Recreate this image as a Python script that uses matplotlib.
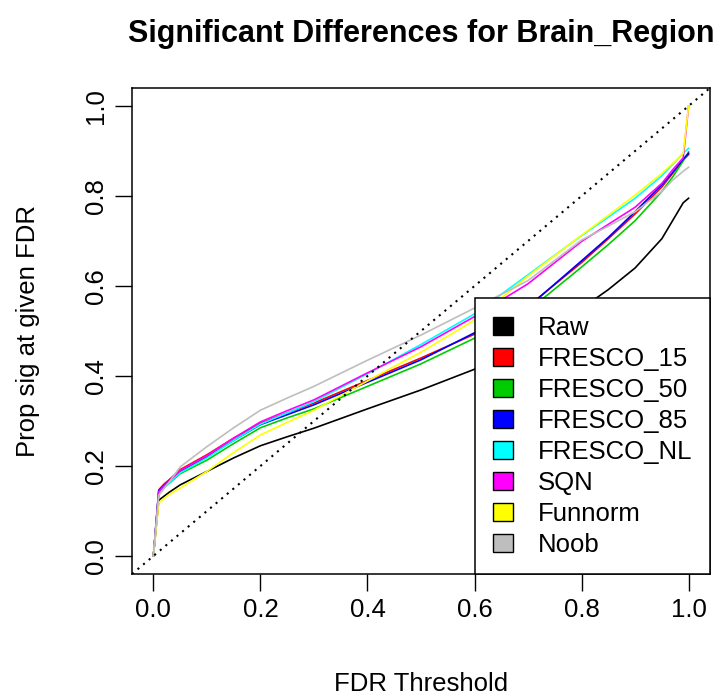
import matplotlib
matplotlib.use("Agg")
import matplotlib.pyplot as plt
from matplotlib.patches import Patch

plt.rcParams['font.family'] = ['Liberation Sans', 'DejaVu Sans']

# FDR thresholds and proportion significant
fdr = [0, 0.01, 0.02, 0.03, 0.05, 0.1, 0.15, 0.2, 0.25, 0.3, 0.4, 0.5, 0.6, 0.7, 0.8, 0.85, 0.9, 0.95, 0.97, 0.99, 1.0]
raw = [0, 0.124, 0.133, 0.142, 0.158, 0.188, 0.218, 0.245, 0.265, 0.284, 0.327, 0.369, 0.415, 0.478, 0.55, 0.592, 0.64, 0.705, 0.745, 0.785, 0.795]
fresco_15 = [0, 0.147, 0.16, 0.17, 0.192, 0.225, 0.262, 0.295, 0.318, 0.34, 0.39, 0.44, 0.493, 0.555, 0.652, 0.705, 0.76, 0.82, 0.85, 0.88, 0.892]
fresco_50 = [0, 0.14, 0.152, 0.162, 0.183, 0.213, 0.25, 0.285, 0.307, 0.327, 0.377, 0.427, 0.484, 0.545, 0.642, 0.692, 0.745, 0.81, 0.842, 0.878, 0.898]
fresco_85 = [0, 0.145, 0.157, 0.167, 0.188, 0.22, 0.257, 0.292, 0.314, 0.336, 0.386, 0.436, 0.496, 0.553, 0.656, 0.708, 0.765, 0.825, 0.852, 0.882, 0.895]
fresco_nl = [0, 0.14, 0.152, 0.163, 0.185, 0.218, 0.257, 0.293, 0.318, 0.343, 0.405, 0.47, 0.538, 0.625, 0.712, 0.753, 0.795, 0.845, 0.87, 0.895, 0.906]
sqn = [0, 0.143, 0.156, 0.167, 0.19, 0.223, 0.262, 0.298, 0.323, 0.347, 0.407, 0.465, 0.532, 0.605, 0.699, 0.737, 0.775, 0.828, 0.858, 0.885, 1.0]
funnorm = [0, 0.118, 0.128, 0.137, 0.151, 0.188, 0.23, 0.269, 0.297, 0.324, 0.389, 0.453, 0.524, 0.622, 0.713, 0.757, 0.802, 0.85, 0.872, 0.895, 1.0]
noob = [0, 0.135, 0.15, 0.165, 0.198, 0.243, 0.285, 0.324, 0.351, 0.377, 0.435, 0.491, 0.551, 0.612, 0.702, 0.733, 0.765, 0.81, 0.835, 0.855, 0.864]

methods = ["Raw", "FRESCO_15", "FRESCO_50", "FRESCO_85", "FRESCO_NL", "SQN", "Funnorm", "Noob"]
series = [raw, fresco_15, fresco_50, fresco_85, fresco_nl, sqn, funnorm, noob]
colors = ["black", "#FF0000", "#00CD00", "#0000FF", "#00FFFF", "#FF00FF", "#FFFF00", "#BEBEBE"]

W, H = 718, 696
fig = plt.figure(figsize=(W / 100, H / 100), dpi=100)
ax = fig.add_axes([132 / W, (H - 574) / H, (710 - 132) / W, (574 - 88) / H])

for y, c in zip(series, colors):
    ax.plot(fdr, y, color=c, linewidth=1.2)

ax.axline((0, 0), slope=1, color="black", linestyle=(0, (1, 2.5)), linewidth=1.5)

ax.set_xlim(-0.04, 1.04)
ax.set_ylim(-0.04, 1.04)
ticks = [0, 0.2, 0.4, 0.6, 0.8, 1.0]
ax.set_xticks(ticks)
ax.set_yticks(ticks)
ax.set_xticklabels(["%.1f" % t for t in ticks])
ax.set_yticklabels(["%.1f" % t for t in ticks], rotation=90, va="center")
ax.tick_params(direction="out", length=12, width=1, labelsize=18.5, pad=5)
for s in ax.spines.values():
    s.set_linewidth(1.1)

ax.set_xlabel("FDR Threshold", fontsize=18.5, labelpad=36)
ax.set_ylabel("Prop sig at given FDR", fontsize=18.5, labelpad=32)
ax.set_title("Significant Differences for Brain_Region", fontsize=22,
             fontweight="bold", pad=33)

handles = [Patch(facecolor=c, edgecolor="black", linewidth=1) for c in colors]
leg = ax.legend(handles, methods, loc="lower right", fontsize=18.5, frameon=True,
                fancybox=False, edgecolor="black", borderaxespad=0,
                handlelength=0.8, handleheight=0.7, handletextpad=0.97,
                labelspacing=0.27, borderpad=0.68)
leg.get_frame().set_linewidth(1.1)
leg.get_frame().set_alpha(1)

fig.savefig("out.png", dpi=100)
